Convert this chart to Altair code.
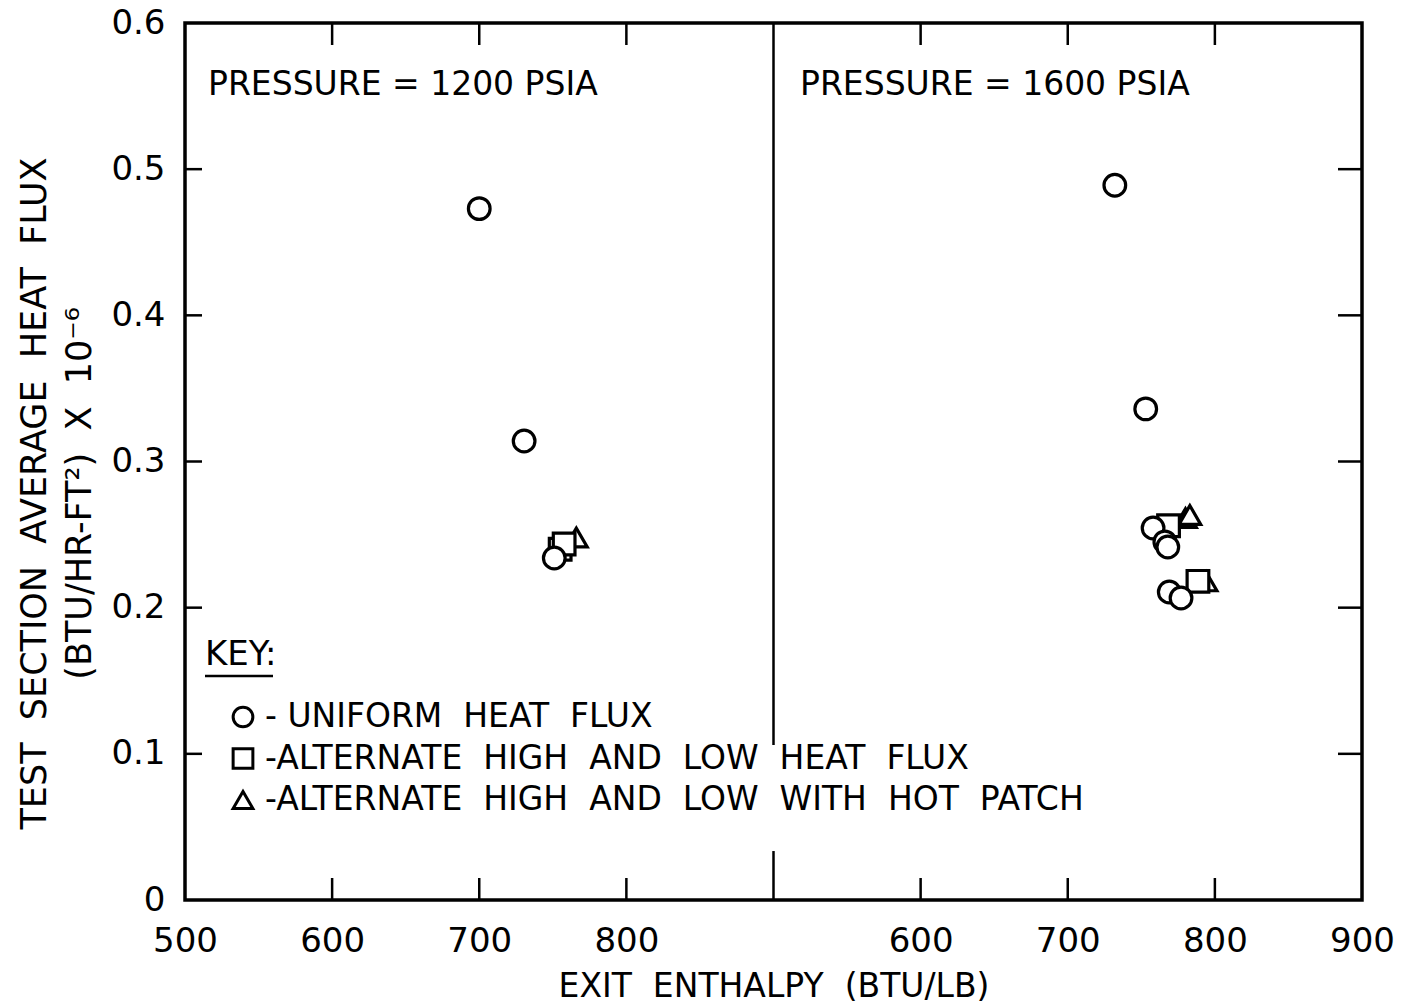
import altair as alt
import pandas as pd

# ---------------- data ----------------
KEYS = ["O", "A", "H"]  # uniform / alternate / alternate + hot patch
NB = "\u00a0\u00a0"
KEY_LABELS = [
    "-\u00a0" + NB.join(["UNIFORM", "HEAT", "FLUX"]),
    "-" + NB.join(["ALTERNATE", "HIGH", "AND", "LOW", "HEAT", "FLUX"]),
    "-" + NB.join(["ALTERNATE", "HIGH", "AND", "LOW", "WITH", "HOT", "PATCH"]),
]
KEY_SHAPES = ["circle", "square", "triangle-up"]

# 1200 psia panel
p1200_enthalpy = [766.0, 755.0, 757.7, 700.0, 730.5, 751.0]
p1200_flux = [0.248, 0.240, 0.2436, 0.473, 0.314, 0.234]
p1200_key = ["H", "A", "A", "O", "O", "O"]

# 1600 psia panel
p1600_enthalpy = [780.0, 783.0, 794.0, 768.5, 788.5, 732.0, 753.0, 758.0, 766.0, 768.0, 769.0, 777.0]
p1600_flux = [0.2613, 0.2634, 0.218, 0.256, 0.218, 0.489, 0.336, 0.2545, 0.245, 0.2415, 0.2107, 0.2066]
p1600_key = ["H", "H", "H", "A", "A", "O", "O", "O", "O", "O", "O", "O"]

panel_titles = ["PRESSURE = 1200 PSIA", "PRESSURE = 1600 PSIA"]
panel_offset = [0, 400]          # second panel shares the axis, shifted by 400
x_tick_values = [600, 700, 800]  # per panel
y_tick_values = [0.1, 0.2, 0.3, 0.4, 0.5]
y_label_values = [0, 0.1, 0.2, 0.3, 0.4, 0.5, 0.6]
x_label_values = [500, 600, 700, 800, 900]
divider_segments = [(0.6, 0.106), (0.0335, 0.0)]

# ---------------- tables ----------------
label_of = dict(zip(KEYS, KEY_LABELS))
rows = []
for ent, fl, k in zip(p1200_enthalpy, p1200_flux, p1200_key):
    rows.append({"xplot": ent + panel_offset[0], "flux": fl, "key": label_of[k]})
for ent, fl, k in zip(p1600_enthalpy, p1600_flux, p1600_key):
    rows.append({"xplot": ent + panel_offset[1], "flux": fl, "key": label_of[k]})
pts = pd.DataFrame(rows)

xticks = pd.DataFrame({"xplot": [v + o for o in panel_offset for v in x_tick_values]})
yticks = pd.DataFrame({"flux": y_tick_values})
divider = pd.DataFrame({"xplot": [900] * len(divider_segments),
                        "flux": [a for a, b in divider_segments],
                        "flux2": [b for a, b in divider_segments]})
x_axis_values = sorted(set([v for v in x_label_values] + [v + 400 for v in x_label_values if v > 500]))

W, H = 1177, 877
FONT = "DejaVu Sans"

# key (legend) layout, in pixels inside the plot area
KEY_ROW0, KEY_ROW_STEP = 694, 41.5
key_df = pd.DataFrame({"key": KEY_LABELS,
                       "ly": [KEY_ROW0 + KEY_ROW_STEP * i for i in range(len(KEY_LABELS))]})

xscale = alt.Scale(domain=[500, 1300], nice=False, zero=False)
yscale = alt.Scale(domain=[0, 0.6], nice=False, zero=False)
shape_scale = alt.Scale(domain=KEY_LABELS, range=KEY_SHAPES)

x_axis = alt.Axis(
    values=[v for v in x_axis_values if v != 900],
    labelExpr="datum.value > 900 ? datum.value - 400 : datum.value",
    ticks=False, domain=False, grid=False, labelFlush=False,
    labelFontSize=34, labelFont=FONT, labelColor="black", labelPadding=24,
    title="EXIT" + NB + "ENTHALPY" + NB + "(BTU/LB)",
    titleFontSize=33, titleFont=FONT, titleFontWeight="normal", titleColor="black",
    titlePadding=12,
)
y_axis = alt.Axis(
    values=y_label_values, format=".1~f",
    ticks=False, domain=False, grid=False, labelFlush=False,
    labelFontSize=34, labelFont=FONT, labelColor="black", labelPadding=20,
    title=["TEST" + NB + "SECTION" + NB + "AVERAGE" + NB + "HEAT" + NB + "FLUX",
           "(BTU/HR-FT²)" + NB + "X" + NB + "10⁻⁶"],
    titleFontSize=35, titleFont=FONT, titleFontWeight="normal", titleColor="black",
    titleLineHeight=45, titleX=-168, titleY=470, titleAngle=270,
    titleAlign="center", titleBaseline="top",
)

X = lambda f: alt.X(f, scale=xscale, axis=x_axis)
Y = lambda f: alt.Y(f, scale=yscale, axis=y_axis)

points = alt.Chart(pts).mark_point(
    fill="white", fillOpacity=1, stroke="black", strokeWidth=3.2, size=470, opacity=1
).encode(
    x=X("xplot:Q"),
    y=Y("flux:Q"),
    shape=alt.Shape("key:N", scale=shape_scale, legend=None),
)

key_symbols = alt.Chart(key_df).mark_point(
    fill="white", fillOpacity=1, stroke="black", strokeWidth=3, size=390, opacity=1
).encode(
    x=alt.value(58),
    y=alt.Y("ly:Q", scale=None),
    shape=alt.Shape("key:N", scale=shape_scale, legend=None),
)
key_labels = alt.Chart(key_df).mark_text(
    align="left", baseline="middle", fontSize=33, font=FONT, color="black"
).encode(
    x=alt.value(80),
    y=alt.Y("ly:Q", scale=None),
    text="key:N",
)

div = alt.Chart(divider).mark_rule(color="black", strokeWidth=2.5).encode(
    x=X("xplot:Q"), y=Y("flux:Q"), y2="flux2:Q",
)

left_ticks = alt.Chart(yticks).mark_rule(color="black", strokeWidth=2.5).encode(
    y=Y("flux:Q"), x=alt.value(0), x2=alt.value(17))
right_ticks = alt.Chart(yticks).mark_rule(color="black", strokeWidth=2.5).encode(
    y=Y("flux:Q"), x=alt.value(W - 24), x2=alt.value(W))
bottom_ticks = alt.Chart(xticks).mark_rule(color="black", strokeWidth=2.5).encode(
    x=X("xplot:Q"), y=alt.value(H), y2=alt.value(H - 22))
top_ticks = alt.Chart(xticks).mark_rule(color="black", strokeWidth=2.5).encode(
    x=X("xplot:Q"), y=alt.value(0), y2=alt.value(22))

ptitles = pd.DataFrame({"t": panel_titles, "px": [23, 615]})
panel_text = alt.Chart(ptitles).mark_text(
    align="left", baseline="middle", fontSize=33, font=FONT, color="black"
).encode(text="t:N", x=alt.X("px:Q", scale=None), y=alt.value(62))

key_text = alt.Chart(pd.DataFrame({"t": ["KEY:"]})).mark_text(
    align="left", baseline="middle", fontSize=34, font=FONT, color="black"
).encode(text="t:N", x=alt.value(20), y=alt.value(632))
key_line = alt.Chart(pd.DataFrame({"t": ["KEY"]})).mark_rule(color="black", strokeWidth=2.5).encode(
    x=alt.value(20), x2=alt.value(88), y=alt.value(653))

chart = alt.layer(
    div, left_ticks, right_ticks, bottom_ticks, top_ticks,
    panel_text, key_text, key_line, key_symbols, key_labels, points,
).properties(
    width=W, height=H,
    autosize=alt.AutoSizeParams(type="none"),
    padding={"left": 185, "top": 23, "right": 54, "bottom": 105},
    background="white",
).configure_view(stroke="black", strokeWidth=3.5)

chart.save("out.html", embed_options={"renderer": "svg", "actions": False})
